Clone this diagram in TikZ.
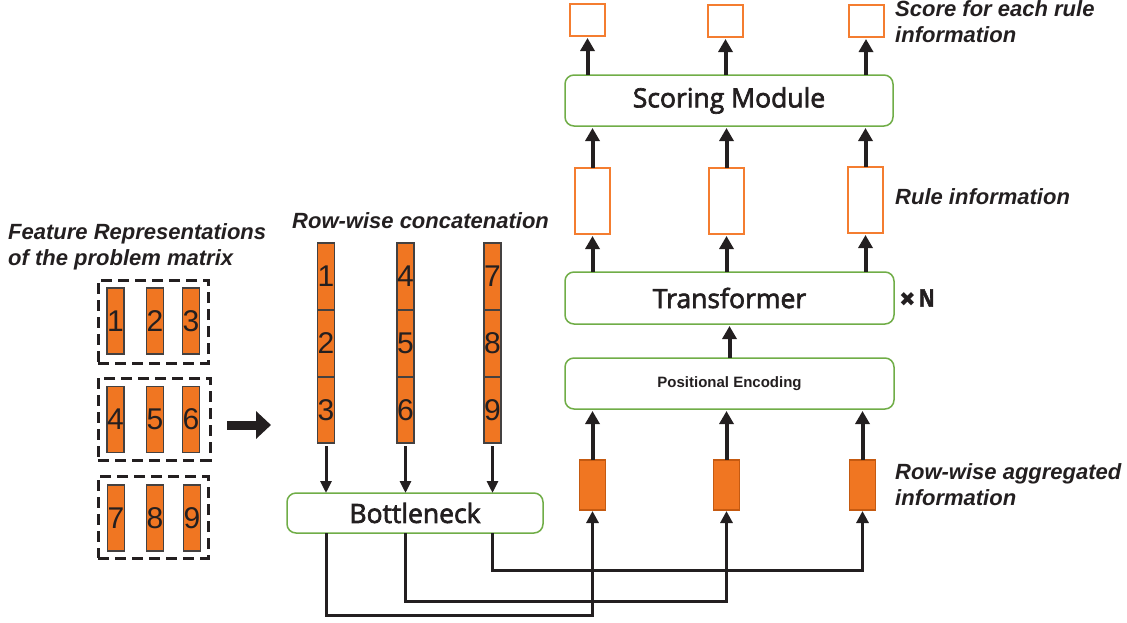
\documentclass[tikz,border=0pt]{standalone}
\usepackage{fontspec}
\setmainfont{Liberation Sans}
\newfontfamily\boxfont[FakeBold=2.5]{Open Sans}
\newfontfamily\symfont{DejaVu Sans}
\usetikzlibrary{arrows.meta}

\definecolor{barfill}{RGB}{240,118,34}
\definecolor{barline}{RGB}{197,90,17}
\definecolor{hollowline}{RGB}{244,125,48}
\definecolor{modgreen}{RGB}{112,173,71}
\definecolor{ink}{RGB}{35,31,32}

\tikzset{
  bar/.style={draw=ink!85, fill=barfill, line width=1.2pt, minimum width=17pt,
    inner sep=0pt, outer sep=0pt, font=\fontsize{30}{30}\selectfont, text=ink},
  aggbar/.style={draw=barline, fill=barfill, line width=1.5pt, minimum width=26pt,
    minimum height=50pt, inner sep=0pt, outer sep=0pt},
  hollow/.style={draw=hollowline, fill=white, line width=2pt, minimum width=35pt,
    inner sep=0pt, outer sep=0pt},
  module/.style={draw=modgreen, fill=white, rounded corners=9pt, line width=1.5pt,
    inner sep=0pt, outer sep=0pt, text=ink},
  group/.style={draw=ink, line width=3pt, dash pattern=on 11pt off 6pt,
    inner sep=0pt, outer sep=0pt},
  bigarrow/.style={draw=ink, line width=4pt, -{Triangle[width=14pt,length=13pt]},
    shorten >=2pt},
  thinarrow/.style={draw=ink, line width=3pt, -{Triangle[width=11pt,length=12pt]},
    shorten <=3pt},
  link/.style={draw=ink, line width=3pt, -{Triangle[width=12pt,length=12pt]},
    shorten >=1pt},
  caption/.style={font=\bfseries\itshape\fontsize{22}{26}\selectfont, text=ink,
    align=left, anchor=west, inner sep=0pt},
}

\begin{document}
\begin{tikzpicture}[x=1pt, y=-1pt]
\useasboundingbox (0,0) rectangle (1127,622);

% ---- feature representations of the problem matrix ----
\node[caption] (featlbl) at (8,246.5) {Feature Representations\\of the problem matrix};

\node[group, minimum width=110pt, minimum height=83pt] (g1) at (153,321.5) {};
\node[group, minimum width=112pt, minimum height=82pt] (g2) at (154,419) {};
\node[group, minimum width=110pt, minimum height=82pt] (g3) at (153,517) {};

\foreach \n/\x/\y in {1/115.5/321, 2/155/321, 3/191/321,
                      4/115.5/419.5, 5/155/419.5, 6/191/419.5,
                      7/116/518, 8/155/518, 9/192/518}
  \node[bar, minimum height=66pt] (f\n) at (\x,\y) {\n};

% block arrow between the two halves
\coordinate (baS) at (227,425);
\coordinate (baE) at (271,425);
\draw[ink, line width=9pt, -{Triangle[width=27pt,length=15pt]}] (baS) -- (baE);

% ---- row-wise concatenation ----
\node[caption] (concatlbl) at (292,221) {Row-wise concatenation};

\foreach \c/\x/\a/\b/\d in {1/326/1/2/3, 2/405.5/4/5/6, 3/492.5/7/8/9}{
  \node[bar, minimum height=67pt] (c\c s1) at (\x,276.5) {\a};
  \node[bar, minimum height=67pt] (c\c s2) at (\x,343.5) {\b};
  \node[bar, minimum height=66pt] (c\c s3) at (\x,410) {\d};
}

% bottleneck
\node[module, minimum width=256pt, minimum height=40pt,
      font=\boxfont\fontsize{26.5}{26.5}\selectfont] (bn) at (415,513) {Bottleneck};

\foreach \c in {1,2,3}
  \draw[thinarrow] (c\c s3.south) -- (c\c s3.south |- bn.north);

% ---- row-wise aggregated information ----
\node[aggbar] (a1) at (592.5,485) {};
\node[aggbar] (a2) at (726.5,485) {};
\node[aggbar] (a3) at (862.5,485) {};
\node[caption] (agglbl) at (895,485) {Row-wise aggregated\\information};

\draw[link] (c1s3 |- bn.south) -- ++(0,82) -| (a1.south);
\draw[link] (c2s3 |- bn.south) -- ++(0,68) -| (a2.south);
\draw[link] (c3s3 |- bn.south) -- ++(0,37) -| (a3.south);

% ---- positional encoding and transformer ----
\node[module, minimum width=329pt, minimum height=51pt,
      font=\bfseries\fontsize{15}{15}\selectfont] (pe) at (729.5,383.5) {Positional Encoding};
\node[module, minimum width=329pt, minimum height=52pt,
      font=\boxfont\fontsize{26.5}{26.5}\selectfont] (tf) at (729.5,298) {Transformer};
\node[anchor=west, inner sep=0pt, text=ink] (rep) at (899,298)
  {{\symfont\fontsize{20}{20}\selectfont ✖}\kern3pt\scalebox{0.8}[1]{\boxfont\bfseries\fontsize{24}{24}\selectfont N}};

\foreach \i in {1,2,3}
  \draw[bigarrow] (a\i.north) -- (a\i.north |- pe.south);
\draw[bigarrow] (pe.north) -- (tf.south);

% ---- rule information ----
\node[hollow, minimum height=66pt] (r1) at (592.5,201) {};
\node[hollow, minimum height=66pt] (r2) at (726.5,201) {};
\node[hollow, minimum height=66pt] (r3) at (865.5,200) {};
\node[caption] (rulelbl) at (895,197) {Rule information};

\foreach \i in {1,2,3}
  \draw[bigarrow] (r\i.south |- tf.north) -- (r\i.south);

% ---- scoring module ----
\node[module, minimum width=328pt, minimum height=51pt,
      font=\boxfont\fontsize{26.5}{26.5}\selectfont] (sm) at (729,100.5) {Scoring Module};

\foreach \i in {1,2,3}
  \draw[bigarrow] (r\i.north) -- (r\i.north |- sm.south);

\node[hollow, minimum height=32pt] (s1) at (587.5,20) {};
\node[hollow, minimum height=32pt] (s2) at (725.5,21) {};
\node[hollow, minimum height=32pt] (s3) at (866,21) {};
\node[caption] (scorelbl) at (895,22) {Score for each rule\\information};

\foreach \i in {1,2,3}
  \draw[bigarrow] (s\i.south |- sm.north) -- (s\i.south);
\end{tikzpicture}
\end{document}
